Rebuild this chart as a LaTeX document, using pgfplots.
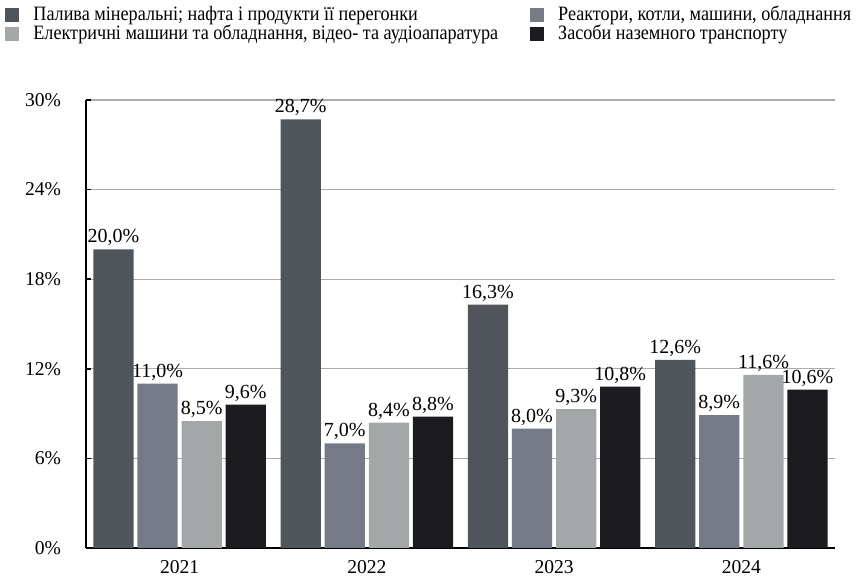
\documentclass[border=0pt]{standalone}
\usepackage{fontspec}
\setmainfont{Liberation Serif}
\newfontfamily\legfont[FakeStretch=0.89]{Liberation Serif}
\usepackage{pgfplots}
\pgfplotsset{compat=1.18}
\definecolor{cA}{HTML}{50545B}
\definecolor{cB}{HTML}{757A86}
\definecolor{cC}{HTML}{A3A7A7}
\definecolor{cD}{HTML}{1C1C20}
\pgfplotsset{sqleg/.style={legend image code/.code={\fill[##1] (0pt,-3.5pt) rectangle (7pt,3.5pt); \path (12pt,0pt);}}}
\begin{document}
\begin{tikzpicture}
\path[use as bounding box] (-43pt,-14.5pt) rectangle (386pt,274pt);
\begin{axis}[
  at={(0,0)}, anchor=south west,
  scale only axis, width=374.5pt, height=224pt,
  xmin=-0.5, xmax=3.5, ymin=0, ymax=30,
  axis x line*=bottom, axis y line*=left,
  axis line style={black, line width=0.8pt},
  xtick={0,1,2,3}, xticklabels={2021,2022,2023,2024},
  major x tick style={draw=none},
  ytick={0,6,...,30},
  yticklabel={\pgfmathprintnumber[assume math mode=true]{\tick}\%},
  yticklabel style={xshift=-9pt},
  tick align=inside, major tick length=2.5pt,
  major y tick style={black, line width=0.8pt},
  ymajorgrids, grid style={gray!65, line width=0.6pt},
  tick label style={font=\fontsize{9.8}{11}\selectfont},
  ybar, bar width=0.214,
  nodes near coords={\pgfmathprintnumber[fixed,fixed zerofill,precision=1,use comma,assume math mode=true]{\pgfplotspointmeta}\%},
  every node near coord/.append style={font=\fontsize{10}{12}\selectfont, inner sep=1.5pt, black},
  legend columns=2,
  legend cell align=left,
  legend style={draw=none, fill=none, at={(axis description cs:0,1)}, anchor=north west,
    xshift=-40.5pt, yshift=49pt, inner sep=0pt, font=\legfont\fontsize{10.2}{11}\selectfont,
    /tikz/every even column/.append style={column sep=14pt}, row sep=-3.5pt},
]
\addplot[fill=cA, draw=none, bar shift=-0.353, sqleg] coordinates {(0,20.0) (1,28.7) (2,16.3) (3,12.6)};
\addplot[fill=cB, draw=none, bar shift=-0.118, sqleg] coordinates {(0,11.0) (1,7.0) (2,8.0) (3,8.9)};
\addplot[fill=cC, draw=none, bar shift=0.118, sqleg] coordinates {(0,8.5) (1,8.4) (2,9.3) (3,11.6)};
\addplot[fill=cD, draw=none, bar shift=0.353, sqleg] coordinates {(0,9.6) (1,8.8) (2,10.8) (3,10.6)};
\legend{Палива мінеральні; нафта і продукти її перегонки, Реактори{,} котли{,} машини{,} обладнання, Електричні машини та обладнання{,} відео- та аудіоапаратура, Засоби наземного транспорту}
\end{axis}
\end{tikzpicture}
\end{document}
